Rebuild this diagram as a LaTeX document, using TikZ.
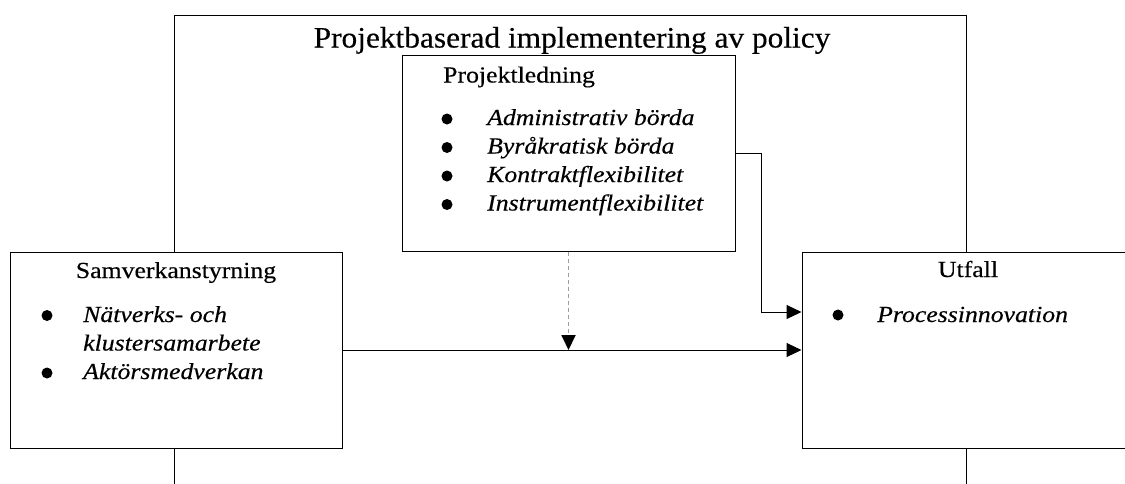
\documentclass[tikz,border=0pt]{standalone}
\usepackage{fontspec}
\setmainfont{Liberation Serif}[FakeStretch=1.12,FakeBold=0.35]
\newfontfamily\titlefont{Liberation Serif}[FakeStretch=1.06,FakeBold=0.35]
\usetikzlibrary{arrows.meta}
\begin{document}
\begin{tikzpicture}[x=1pt,y=-1pt,
  box/.style={draw=black, fill=white, line width=1pt, inner sep=0pt},
  frameline/.style={draw=black, line width=1pt},
  txt/.style={inner sep=0pt, font=\fontsize{23}{28}\selectfont},
  itm/.style={inner sep=0pt, font=\fontsize{23}{28}\selectfont\itshape, anchor=base west},
  dot/.style={circle, fill=black, inner sep=0pt, minimum size=11pt},
  conn/.style={draw=black, line width=1pt, -{Triangle[length=15pt,width=14pt]}},
  dashconn/.style={draw=black!38, line width=1.8pt, dash pattern=on 4.5pt off 2.5pt, -{Triangle[length=15pt,width=14pt,color=black]}}]
\useasboundingbox (0,0) rectangle (1125,483);
\clip (0,0) rectangle (1125,483);
\fill[white] (0,0) rectangle (1125,483);
% outer frame
\coordinate (fbl) at (174,490);
\coordinate (ftl) at (174,15);
\coordinate (ftr) at (966,15);
\coordinate (fbr) at (966,490);
\draw[frameline] (fbl) -- (ftl) -- (ftr) -- (fbr);
\node[inner sep=0pt, font=\titlefont\fontsize{29.6}{34}\selectfont, anchor=base] (title) at (572,47.5) {Projektbaserad implementering av policy};
% boxes
\node[box, minimum width=333pt, minimum height=196pt] (pl) at (568.5,153) {};
\node[box, minimum width=332pt, minimum height=196pt] (sv) at (176,350) {};
\node[box, minimum width=340pt, minimum height=196pt] (ut) at (972,350) {};
% Projektledning text
\node[txt, anchor=base west] (plt) at (443,82.5) {Projektledning};
\node[dot] (pb1) at (447,119) {};
\node[dot] (pb2) at (447,147.5) {};
\node[dot] (pb3) at (447,176) {};
\node[dot] (pb4) at (447,204.5) {};
\node[itm] (pi1) at (487,125) {Administrativ börda};
\node[itm] (pi2) at (487,153.5) {Byråkratisk börda};
\node[itm] (pi3) at (487,182) {Kontraktflexibilitet};
\node[itm] (pi4) at (487,210.5) {Instrumentflexibilitet};
% Samverkanstyrning text
\node[txt, anchor=base] (svt) at (176,278) {Samverkanstyrning};
\node[dot] (sb1) at (47,315.5) {};
\node[dot] (sb2) at (47,373) {};
\node[itm] (si1) at (83,322) {Nätverks- och};
\node[itm] (si2) at (83,350.5) {klustersamarbete};
\node[itm] (si3) at (83,379) {Aktörsmedverkan};
% Utfall text
\node[txt, anchor=base] (utt) at (968,277) {Utfall};
\node[dot] (ub1) at (838,315) {};
\node[itm] (ui1) at (877,322) {Processinnovation};
% connectors
\coordinate (j1) at (761,312);
\draw[conn] (pl.east) -| (j1) -- (j1 -| ut.west);
\draw[conn] (sv.east) -- (sv.east -| ut.west);
\draw[dashconn] (pl.south) -- (pl.south |- sv.east);
\end{tikzpicture}
\end{document}
